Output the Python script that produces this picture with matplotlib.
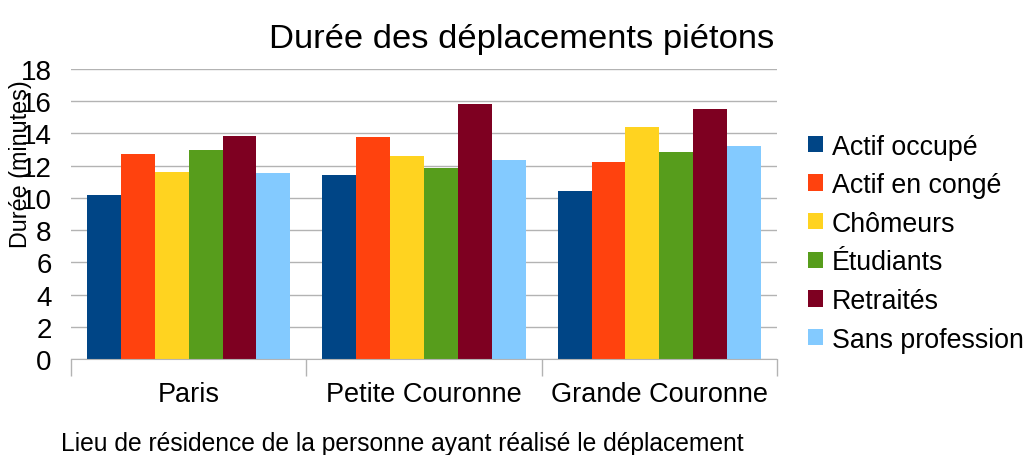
import numpy as np
import matplotlib.pyplot as plt

plt.rcParams['font.family'] = ['Liberation Sans', 'DejaVu Sans']

# Données
regions = ['Paris', 'Petite Couronne', 'Grande Couronne']
categories = ['Actif occupé', 'Actif en congé', 'Chômeurs', 'Étudiants', 'Retraités', 'Sans profession']
actif_occupe = [10.2, 11.4, 10.4]
actif_conge = [12.7, 13.8, 12.2]
chomeurs = [11.6, 12.6, 14.4]
etudiants = [13.0, 11.85, 12.85]
retraites = [13.85, 15.8, 15.5]
sans_profession = [11.55, 12.35, 13.2]
colors = ['#004586', '#ff420e', '#ffd320', '#579d1c', '#7e0021', '#83caff']

series = [actif_occupe, actif_conge, chomeurs, etudiants, retraites, sans_profession]

fig = plt.figure(figsize=(10.31, 4.56), dpi=100)
ax = fig.add_axes([0.0689, 0.2105, 0.6847, 0.636])

x = np.arange(len(regions))
bar_w = 0.1438
offsets = (np.arange(len(series)) - (len(series) - 1) / 2) * bar_w
for vals, off, col, name in zip(series, offsets, colors, categories):
    ax.bar(x + off, vals, width=bar_w, color=col, label=name, zorder=2)

ax.set_xlim(-0.5, len(regions) - 0.5)
ax.set_ylim(0, 18)
ax.set_yticks(np.arange(0, 19, 2))
ax.grid(axis='y', color='#b3b3b3', linewidth=1, zorder=0)

ax.set_xticks(x)
ax.set_xticklabels(regions, fontsize=19.5)
ax.set_xticks(np.arange(-0.5, len(regions)), minor=True)
ax.tick_params(axis='x', which='major', length=0, pad=16)
ax.tick_params(axis='x', which='minor', length=12, color='#b3b3b3', width=1)
ax.tick_params(axis='y', length=0, labelsize=20, pad=14)

for s in ['top', 'right', 'left']:
    ax.spines[s].set_visible(False)
ax.spines['bottom'].set_color('#b3b3b3')

ax.set_title('Durée des déplacements piétons', fontsize=24.8, pad=16, x=0.639)
ax.set_ylabel('Durée (minutes)', fontsize=16.8)
ax.yaxis.set_label_coords(-0.056, 0.676)
fig.text(0.39, 0.011, 'Lieu de résidence de la personne ayant réalisé le déplacement',
         ha='center', va='baseline', fontsize=17.7)

ax.legend(loc='center left', bbox_to_anchor=(1.044, 0.40), frameon=False, fontsize=19.3,
          handlelength=0.56, handleheight=0.56, handletextpad=0.33, labelspacing=0.47,
          borderaxespad=0, borderpad=0)

fig.savefig('out.png', dpi=100)
